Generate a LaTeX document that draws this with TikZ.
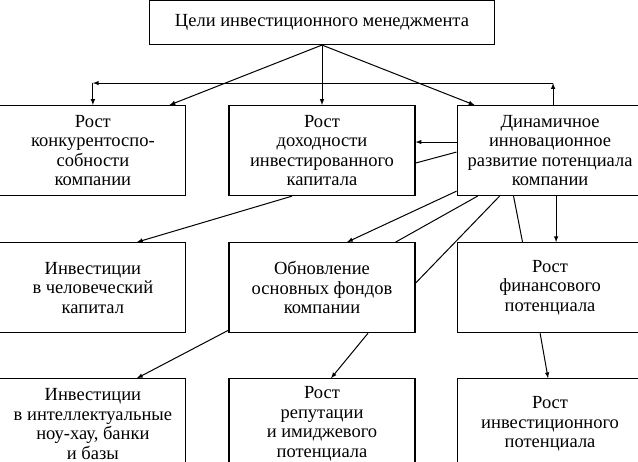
\documentclass[tikz,border=0pt]{standalone}
\usepackage{fontspec}
\setmainfont{Liberation Serif}
\usepackage{tikz}
\usetikzlibrary{shapes,arrows,positioning,calc}

\begin{document}
\begin{tikzpicture}[node distance=60pt and 42pt, >=latex,
    box/.style={rectangle, draw, line width=1.1pt, minimum width=186pt, minimum height=90pt,
        align=center, inner sep=0pt, font=\fontsize{18.5}{19.5}\selectfont},
    link/.style={line width=1pt}]
    \useasboundingbox (0,0) rectangle (638pt,-462pt);

    \node (goals) [rectangle, draw, line width=1.1pt, minimum width=345pt, minimum height=44pt,
        font=\fontsize{18.5}{19.5}\selectfont] at (322pt,-22.5pt) {Цели инвестиционного менеджмента};
    \node (doh) [box, below=of goals] {Рост\\доходности\\инвестированного\\капитала};
    \node (kon) [box, left=of doh] {Рост\\конкурентоспо-\\собности\\компании};
    \node (dyn) [box, right=41pt of doh] {Динамичное\\инновационное\\развитие потенциала\\компании};

    \node (hum) [box, below=46pt of kon] {Инвестиции\\в человеческий\\капитал};
    \node (fonds) [box, below=46pt of doh] {Обновление\\основных фондов\\компании};
    \node (fin) [box, below=46pt of dyn] {Рост\\финансового\\потенциала};

    \node (intel) [box, below=45pt of hum] {Инвестиции\\в интеллектуальные\\ноу-хау, банки\\и базы};
    \node (rep) [box, below=45pt of fonds] {Рост\\репутации\\и имиджевого\\потенциала};
    \node (inv) [box, below=45pt of fin] {Рост\\инвестиционного\\потенциала};

    \draw [->, link] (goals.south) -- ([xshift=-17pt]kon.north east);
    \draw [->, link] (goals.south) -- (doh.north);
    \draw [->, link] (goals.south) -- ([xshift=18pt]dyn.north west);

    % obratnaya svyaz
    \coordinate (fbr) at ([xshift=3pt,yshift=22pt]dyn.north);
    \coordinate (fbl) at (fbr -| kon.north);
    \draw [->, link] ([xshift=3pt]dyn.north) -- (fbr);
    \draw [->, link] (fbr) -- (fbl);
    \draw [->, link] (fbl) -- (kon.north);

    \draw [->, link] ([yshift=-37pt]dyn.north west) -- ([yshift=-37pt]doh.north east);
    \draw [link] ([yshift=-47pt]dyn.north west) -- ([yshift=-58pt]doh.north east);

    \draw [->, link] ([xshift=-30pt]doh.south) -- ([xshift=44pt]hum.north);
    \draw [->, link] ([yshift=5pt]dyn.south west) -- ([xshift=25pt]fonds.north);
    \draw [link] ([xshift=21pt]dyn.south west) -- ([xshift=-20pt]fonds.north east);
    \draw [link] ([xshift=43pt]dyn.south west) -- ([yshift=-41pt]fonds.north east);
    \draw [link] ([xshift=57pt]dyn.south west) -- ([xshift=66pt]fin.north west);
    \draw [->, link] ([xshift=6pt]dyn.south) -- ([xshift=6pt]fin.north);

    \draw [->, link] ([yshift=3pt]fonds.south west) -- ([xshift=44pt]intel.north);
    \draw [->, link] ([xshift=46pt]fonds.south) -- ([xshift=9pt]rep.north);
    \draw [->, link] ([xshift=-10pt]fin.south) -- ([xshift=-2pt]inv.north);
\end{tikzpicture}
\end{document}
